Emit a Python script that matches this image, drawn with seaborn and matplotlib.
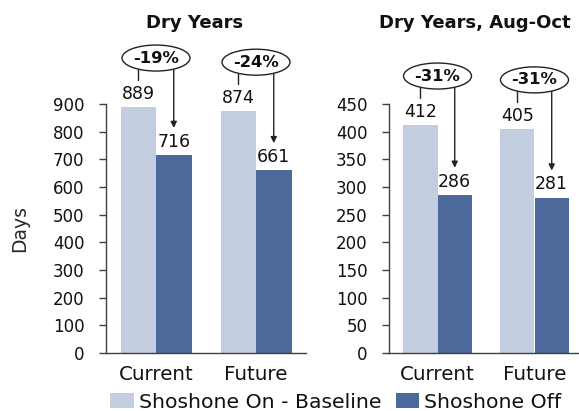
import matplotlib
matplotlib.use("Agg")
import matplotlib.pyplot as plt
from matplotlib.patches import Ellipse, Rectangle
import seaborn as sns
import pandas as pd

sns.set_theme(style="white")
plt.rcParams["font.family"] = ["DejaVu Sans"]

# Data
periods = ["Current", "Future"]
scenarios = ["Shoshone On - Baseline", "Shoshone Off"]
dry_on = [889, 874]
dry_off = [716, 661]
augoct_on = [412, 405]
augoct_off = [286, 281]
dry_change = ["-19%", "-24%"]
augoct_change = ["-31%", "-31%"]

titles = ["Dry Years", "Dry Years, Aug-Oct"]
ymax = [900, 450]
ystep = [100, 50]

colors = ["#C2CDE0", "#4B6A9B"]
axis_color = "#404040"

W, H = 579, 411
fig = plt.figure(figsize=(W / 100, H / 100), dpi=100)


def frame(df_on, df_off):
    return pd.DataFrame({
        "period": periods * 2,
        "scenario": [scenarios[0]] * 2 + [scenarios[1]] * 2,
        "days": list(df_on) + list(df_off),
    })


panels = [
    (dry_on, dry_off, dry_change),
    (augoct_on, augoct_off, augoct_change),
]
rects = [
    [106 / W, (H - 353) / H, 200 / W, 249 / H],
    [389 / W, (H - 353) / H, 194 / W, 249 / H],
]

axes = []
for i, (on, off, change) in enumerate(panels):
    ax = fig.add_axes(rects[i])
    axes.append(ax)
    sns.barplot(data=frame(on, off), x="period", y="days", hue="scenario",
                hue_order=scenarios, palette=colors, width=0.71,
                saturation=1, ax=ax, legend=False, edgecolor="none")
    ax.set_xlim(-0.5, 1.5)
    ax.set_ylim(0, ymax[i])
    ax.set_yticks(range(0, ymax[i] + 1, ystep[i]))
    ax.set_xlabel("")
    ax.set_ylabel("Days" if i == 0 else "", fontsize=13.5, labelpad=17)
    for side in ("top", "right"):
        ax.spines[side].set_visible(False)
    for side in ("left", "bottom"):
        ax.spines[side].set_color(axis_color)
        ax.spines[side].set_linewidth(1.0)
    ax.tick_params(axis="y", left=True, length=5, width=1, color=axis_color,
                   labelsize=12, pad=10.5, labelcolor="#111111")
    ax.tick_params(axis="x", bottom=False, labelsize=14.3, pad=2.5,
                   labelcolor="#111111")
    ax.patch.set_visible(False)

    # pixel -> data scale
    px_y = ymax[i] / ax.bbox.height
    px_x = 2.0 / ax.bbox.width
    bw = 0.71 / 2

    for j, (a, b) in enumerate(zip(on, off)):
        x_on = j - bw / 2
        x_off = j + bw / 2
        # value labels
        ax.annotate(f"{a}", (x_on, a), xytext=(0, 3), textcoords="offset points",
                    ha="center", va="bottom", fontsize=12.5, color="#111111")
        ax.annotate(f"{b}", (x_off, b), xytext=(0, 3), textcoords="offset points",
                    ha="center", va="bottom", fontsize=12.5, color="#111111")
        # ellipse with percentage change
        cy = a + 49 * px_y
        ew, eh = 68 * px_x, 26 * px_y
        ax.add_patch(Ellipse((j, cy), ew, eh, facecolor="white",
                             edgecolor="#222222", lw=1.0, clip_on=False, zorder=5))
        ax.text(j, cy, change[j], ha="center", va="center", fontsize=11.8,
                fontweight="bold", color="#111111", zorder=6, clip_on=False)
        dx = (x_on - j) / (ew / 2)
        y_edge = cy - (eh / 2) * (1 - dx ** 2) ** 0.5
        ax.plot([x_on, x_on], [y_edge, a + 27 * px_y], color="#222222",
                lw=1.0, clip_on=False, zorder=4)
        ax.annotate("", xy=(x_off, b + 27 * px_y), xytext=(x_off, y_edge),
                    arrowprops=dict(arrowstyle="-|>", color="#222222", lw=1.0,
                                    mutation_scale=9, shrinkA=0, shrinkB=0),
                    annotation_clip=False, zorder=4)

    # panel title
    cx = (rects[i][0] + rects[i][2] / 2) - 11 / W
    fig.text(cx, 1 - 23 / H, titles[i], ha="center", va="center",
             fontsize=13, fontweight="bold", color="#111111")

# legend
handles = [Rectangle((0, 0), 1, 1, facecolor=c, edgecolor="none") for c in colors]
fig.legend(handles, scenarios, loc="center", bbox_to_anchor=(336 / W, 1 - 402 / H),
           ncol=2, frameon=False, fontsize=14.7, handlelength=1.15,
           handleheight=0.75, handletextpad=0.25, columnspacing=0.7,
           borderaxespad=0, labelcolor="#111111")

fig.savefig("out.png", dpi=100)
